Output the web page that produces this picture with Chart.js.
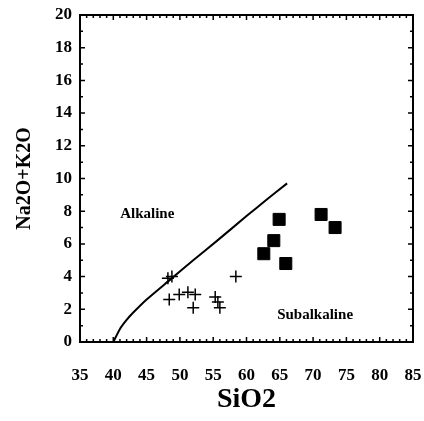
<!DOCTYPE html>
<html>
<head>
<meta charset="utf-8">
<script src="https://cdn.jsdelivr.net/npm/chart.js@4.4.0/dist/chart.umd.min.js"></script>
<style>
  html, body { margin: 0; padding: 0; background: #fff; }
  #wrap { width: 424px; height: 421px; }
</style>
</head>
<body>
<div id="wrap"><canvas id="tas" width="424" height="421"></canvas></div>
<script>
// alkaline / subalkaline divide
const divideSiO2 = [40, 41, 42, 43, 45, 48.5, 52, 55.6, 60, 63, 66.1];
const divideAlk  = [0, 0.8, 1.35, 1.8, 2.6, 3.8, 5.0, 6.2, 7.7, 8.7, 9.7];

// crosses
const crossSiO2 = [48.2, 48.8, 48.4, 49.9, 51.2, 52.3, 52.0, 55.3, 55.7, 56.0, 58.4];
const crossAlk  = [3.9, 4.0, 2.6, 2.9, 3.05, 2.9, 2.1, 2.75, 2.45, 2.1, 4.0];

// filled squares
const squareSiO2 = [64.9, 64.1, 62.6, 65.9, 71.2, 73.3];
const squareAlk  = [7.5, 6.2, 5.4, 4.8, 7.8, 7.0];

const xTicks = [35, 40, 45, 50, 55, 60, 65, 70, 75, 80, 85];
const yTicks = [0, 2, 4, 6, 8, 10, 12, 14, 16, 18, 20];

const fieldNames = ['Alkaline', 'Subalkaline'];
const fieldSiO2  = [45.1, 70.3];
const fieldAlk   = [7.8, 1.65];

const serif = '"Liberation Serif", "DejaVu Serif", serif';

function toPoints(xs, ys) {
    return xs.map((x, i) => ({ x: x, y: ys[i] }));
}

// inward ticks on all four sides + field labels
const framePlugin = {
    id: 'frame',
    afterDraw(chart) {
        const ctx = chart.ctx;
        const xs = chart.scales.x;
        const ys = chart.scales.y;
        const a = chart.chartArea;
        ctx.save();
        ctx.strokeStyle = '#000';
        ctx.lineWidth = 1.5;
        ctx.beginPath();
        for (let v = xs.min; v <= xs.max; v += 1) {
            const px = xs.getPixelForValue(v);
            const len = v % 5 === 0 ? 5 : 3;
            ctx.moveTo(px, a.bottom); ctx.lineTo(px, a.bottom - len);
            ctx.moveTo(px, a.top); ctx.lineTo(px, a.top + len);
        }
        for (let v = ys.min; v <= ys.max; v += 1) {
            const py = ys.getPixelForValue(v);
            const len = v % 2 === 0 ? 5 : 3;
            ctx.moveTo(a.left, py); ctx.lineTo(a.left + len, py);
            ctx.moveTo(a.right, py); ctx.lineTo(a.right - len, py);
        }
        ctx.stroke();
        ctx.lineWidth = 2;
        ctx.strokeRect(a.left, a.top, a.right - a.left, a.bottom - a.top);

        ctx.fillStyle = '#000';
        ctx.font = 'bold 15px ' + serif;
        ctx.textAlign = 'center';
        ctx.textBaseline = 'middle';
        fieldNames.forEach((name, i) => {
            ctx.fillText(name, xs.getPixelForValue(fieldSiO2[i]), ys.getPixelForValue(fieldAlk[i]));
        });
        ctx.restore();
    }
};

new Chart(document.getElementById('tas'), {
    type: 'scatter',
    data: {
        datasets: [
            {
                data: toPoints(divideSiO2, divideAlk),
                showLine: true,
                borderColor: '#000',
                borderWidth: 2,
                pointRadius: 0,
                tension: 0.2
            },
            {
                data: toPoints(crossSiO2, crossAlk),
                pointStyle: 'cross',
                pointRadius: 6,
                borderColor: '#000',
                borderWidth: 1.5
            },
            {
                data: toPoints(squareSiO2, squareAlk),
                pointStyle: 'rect',
                pointRadius: 8.5,
                backgroundColor: '#000',
                borderColor: '#000',
                borderWidth: 1
            }
        ]
    },
    options: {
        responsive: false,
        animation: false,
        layout: { padding: { top: 15, right: 11, left: 0, bottom: 0 } },
        plugins: { legend: { display: false }, tooltip: { enabled: false } },
        scales: {
            x: {
                type: 'linear',
                min: 35,
                max: 85,
                afterBuildTicks: s => { s.ticks = xTicks.map(v => ({ value: v })); },
                afterFit: s => { s.height = 79; s.paddingLeft = 0; s.paddingRight = 0; },
                grid: { display: false, drawTicks: false },
                border: { display: false },
                ticks: { color: '#000', padding: 23, maxRotation: 0, font: { family: serif, weight: 'bold', size: 17 } },
                title: { display: true, text: 'SiO2', color: '#000', padding: { top: 0, bottom: 4 }, font: { family: serif, weight: 'bold', size: 28 } }
            },
            y: {
                type: 'linear',
                min: 0,
                max: 20,
                afterBuildTicks: s => { s.ticks = yTicks.map(v => ({ value: v })); },
                afterFit: s => { s.width = 80; s.paddingTop = 0; s.paddingBottom = 0; },
                grid: { display: false, drawTicks: false },
                border: { display: false },
                ticks: { color: '#000', padding: 8, font: { family: serif, weight: 'bold', size: 17 } },
                title: { display: true, text: 'Na2O+K2O', color: '#000', padding: { top: 13, bottom: 0 }, font: { family: serif, weight: 'bold', size: 20 } }
            }
        }
    },
    plugins: [framePlugin]
});
</script>
</body>
</html>
